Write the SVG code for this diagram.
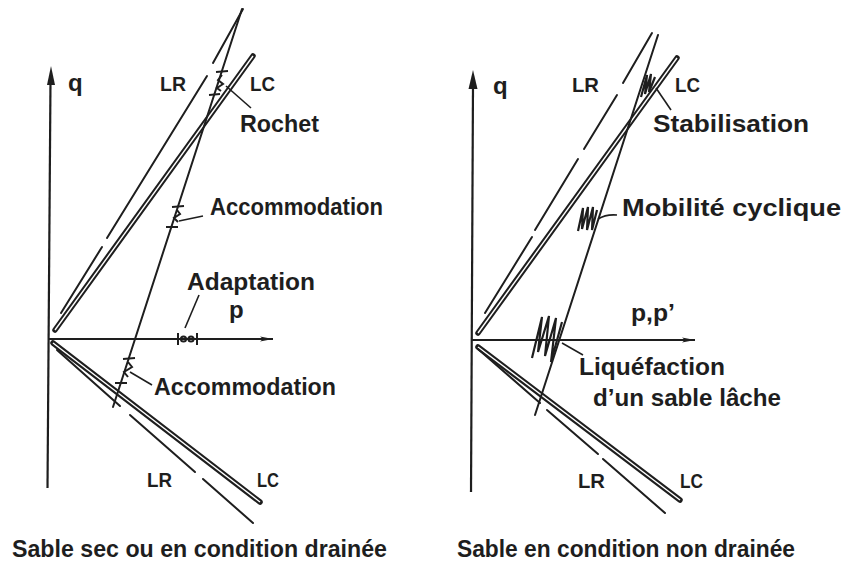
<svg xmlns="http://www.w3.org/2000/svg" width="847" height="569" viewBox="0 0 847 569">
<style>
.ln{stroke:#1e1e1e;stroke-width:2;fill:none;stroke-linecap:round}
.ax{stroke:#1e1e1e;stroke-width:2.2;fill:none}
.dbl{stroke:#1e1e1e;stroke-width:5.5;fill:none;stroke-linecap:round}
.dblw{stroke:#fff;stroke-width:1.4;fill:none}
.tk{stroke:#1e1e1e;stroke-width:2;fill:none}
.hz{stroke:#1e1e1e;stroke-width:2.2;fill:none;stroke-linejoin:miter}
.ld{stroke:#1e1e1e;stroke-width:1.6;fill:none}
text{font-family:"Liberation Sans",Arial,sans-serif;font-weight:bold;fill:#1e1e1e}
.lb{font-size:24px}
.sm{font-size:20px}
.cap{font-size:24px}
</style>
<defs>
<marker id="ah" viewBox="0 0 14 8" refX="13" refY="4" markerWidth="14" markerHeight="8" markerUnits="userSpaceOnUse" orient="auto">
<path d="M0,1.5 L13,4 L0,6.5 L3,4 Z" fill="#1e1e1e"/>
</marker>
</defs>

<g id="left-panel">
 <g id="left-axes">
  <line class="ax" x1="50.5" y1="80" x2="47.5" y2="488"/>
  <path d="M51,66 L55,85 L47,85 Z" fill="#1e1e1e"/>
  <line class="ax" x1="49" y1="339" x2="273" y2="339" marker-end="url(#ah)"/>
 </g>
 <g id="left-lines">
  <line class="dbl" x1="55" y1="330" x2="253" y2="56"/>
  <line class="dblw" x1="55" y1="330" x2="253" y2="56"/>
  <line class="ln" x1="61" y1="313" x2="102" y2="247"/>
  <line class="ln" x1="107" y1="238" x2="207" y2="76"/>
  <line class="ln" x1="213" y1="63" x2="243" y2="9"/>
  <line class="dbl" x1="53" y1="343" x2="260" y2="502"/>
  <line class="dblw" x1="53" y1="343" x2="260" y2="502"/>
  <line class="ln" x1="57" y1="350" x2="120" y2="406"/>
  <line class="ln" x1="130" y1="415" x2="195" y2="472"/>
  <line class="ln" x1="203" y1="479" x2="253" y2="523"/>
  <line class="ln" x1="113" y1="407" x2="242" y2="9"/>
 </g>
 <g id="left-marks">
  <line class="tk" x1="216" y1="72" x2="228" y2="71"/>
  <line class="tk" x1="209" y1="95" x2="220" y2="94"/>
  <polyline class="tk" points="222,75 218,80 223,84 217,88 221,91"/>
  <line class="tk" x1="172" y1="207" x2="184" y2="206"/>
  <line class="tk" x1="166" y1="227" x2="178" y2="227"/>
  <polyline class="tk" points="177,210 180,214 174,218 178,222"/>
  <line class="tk" x1="123" y1="359" x2="135" y2="358"/>
  <line class="tk" x1="115" y1="383" x2="127" y2="383"/>
  <polyline class="tk" points="128,362 132,367 124,372 128,377"/>
  <line class="tk" x1="178" y1="333" x2="178" y2="345"/>
  <line class="tk" x1="197" y1="333" x2="197" y2="345"/>
  <circle cx="183.5" cy="339" r="2.6" class="tk"/>
  <circle cx="191" cy="339" r="2.6" class="tk"/>
 </g>
 <g id="left-leaders">
  <line class="ld" x1="226" y1="86" x2="251" y2="108"/>
  <line class="ld" x1="179" y1="221" x2="203" y2="216"/>
  <line class="ld" x1="185" y1="328" x2="199" y2="295"/>
  <line class="ld" x1="130" y1="372" x2="152" y2="385"/>
 </g>
 <g id="left-labels">
  <text class="lb" x="68" y="91">q</text>
  <text class="sm" x="160" y="91" textLength="26" lengthAdjust="spacingAndGlyphs">LR</text>
  <text class="sm" x="250" y="91" textLength="25" lengthAdjust="spacingAndGlyphs">LC</text>
  <text class="lb" x="240" y="132" textLength="79" lengthAdjust="spacingAndGlyphs">Rochet</text>
  <text class="lb" x="210" y="215" textLength="173" lengthAdjust="spacingAndGlyphs">Accommodation</text>
  <text class="lb" x="187" y="290" textLength="128" lengthAdjust="spacingAndGlyphs">Adaptation</text>
  <text class="lb" x="229" y="318">p</text>
  <text class="lb" x="154" y="395" textLength="182" lengthAdjust="spacingAndGlyphs">Accommodation</text>
  <text class="sm" x="147" y="487" textLength="25" lengthAdjust="spacingAndGlyphs">LR</text>
  <text class="sm" x="257" y="487" textLength="22" lengthAdjust="spacingAndGlyphs">LC</text>
  <text class="cap" x="12" y="557" textLength="375" lengthAdjust="spacingAndGlyphs">Sable sec ou en condition drainée</text>
 </g>
</g>

<g id="right-panel">
 <g id="right-axes">
  <line class="ax" x1="473" y1="84" x2="471" y2="492"/>
  <path d="M473,70 L477.5,89 L468.5,89 Z" fill="#1e1e1e"/>
  <line class="ax" x1="471" y1="340" x2="695" y2="340" marker-end="url(#ah)"/>
 </g>
 <g id="right-lines">
  <line class="dbl" x1="478" y1="333" x2="677" y2="58"/>
  <line class="dblw" x1="478" y1="333" x2="677" y2="58"/>
  <line class="ln" x1="485" y1="313" x2="532" y2="237"/>
  <line class="ln" x1="535" y1="230" x2="578" y2="159"/>
  <line class="ln" x1="584" y1="149" x2="617" y2="95"/>
  <line class="ln" x1="623" y1="83" x2="652" y2="33"/>
  <line class="dbl" x1="478" y1="347" x2="680" y2="500"/>
  <line class="dblw" x1="478" y1="347" x2="680" y2="500"/>
  <line class="ln" x1="478" y1="349" x2="540" y2="403"/>
  <line class="ln" x1="547" y1="410" x2="598" y2="454"/>
  <line class="ln" x1="603" y1="459" x2="665" y2="513"/>
  <line class="ln" x1="535" y1="415" x2="658" y2="35"/>
 </g>
 <g id="right-marks">
  <polyline class="hz" points="641,97 647,75 645,94 651,74 649,92 655,77"/>
  <polyline class="hz" points="578,231 583,208 582,229 588,207 587,230 593,207 592,230 597,210"/>
  <polyline class="hz" points="532,358 542,317 538,352 549,316 545,356 556,318 551,362 562,322"/>
 </g>
 <g id="right-leaders">
  <line class="ld" x1="656" y1="88" x2="671" y2="110"/>
  <path class="ld" d="M598,219 Q606,214 617,215"/>
  <line class="ld" x1="562" y1="343" x2="583" y2="355"/>
 </g>
 <g id="right-labels">
  <text class="lb" x="493" y="94">q</text>
  <text class="sm" x="572" y="92" textLength="27" lengthAdjust="spacingAndGlyphs">LR</text>
  <text class="sm" x="675" y="92" textLength="25" lengthAdjust="spacingAndGlyphs">LC</text>
  <text class="lb" x="653" y="132" textLength="156" lengthAdjust="spacingAndGlyphs">Stabilisation</text>
  <text class="lb" x="622" y="216" textLength="219" lengthAdjust="spacingAndGlyphs">Mobilité cyclique</text>
  <text class="lb" x="631" y="321" textLength="44" lengthAdjust="spacingAndGlyphs">p,p’</text>
  <text class="lb" x="579" y="375" textLength="146" lengthAdjust="spacingAndGlyphs">Liquéfaction</text>
  <text class="lb" x="593" y="406" textLength="188" lengthAdjust="spacingAndGlyphs">d’un sable lâche</text>
  <text class="sm" x="578" y="488" textLength="27" lengthAdjust="spacingAndGlyphs">LR</text>
  <text class="sm" x="680" y="488" textLength="23" lengthAdjust="spacingAndGlyphs">LC</text>
  <text class="cap" x="457" y="557" textLength="338" lengthAdjust="spacingAndGlyphs">Sable en condition non drainée</text>
 </g>
</g>
</svg>
